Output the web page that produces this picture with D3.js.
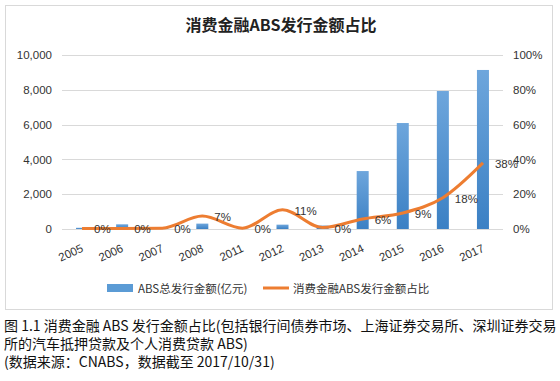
<!DOCTYPE html>
<html>
<head>
<meta charset="utf-8">
<script src="https://cdn.jsdelivr.net/npm/d3@7"></script>
<style>
  body { margin: 0; background: #fff; }
  svg { display: block; font-family: "Noto Sans CJK SC", "DejaVu Sans", sans-serif; }
</style>
</head>
<body>
<svg id="chart" width="560" height="381"></svg>
<script>
var years = ["2005", "2006", "2007", "2008", "2011", "2012", "2013", "2014", "2015", "2016", "2017"];
var totalIssue = [70, 270, 100, 310, 20, 250, 200, 3330, 6090, 7930, 9140];
var consumerShare = [0.003, 0.003, 0.005, 0.074, 0.005, 0.11, 0.008, 0.058, 0.092, 0.18, 0.38];
var shareLabels = ["0%", "0%", "0%", "7%", "0%", "11%", "0%", "6%", "9%", "18%", "38%"];
var leftTicks = [0, 2000, 4000, 6000, 8000, 10000];
var rightTicks = [0, 0.2, 0.4, 0.6, 0.8, 1];

var svg = d3.select("#chart");
var margin = {top: 55, left: 62, right: 57, bottom: 152};
var width = 560 - margin.left - margin.right;
var height = 381 - margin.top - margin.bottom;

// chart frame
svg.append("rect")
  .attr("x", 5.5).attr("y", 5.5)
  .attr("width", 547).attr("height", 304)
  .attr("fill", "#fff").attr("stroke", "#d9d9d9");

svg.append("text")
  .attr("x", 281).attr("y", 31)
  .attr("text-anchor", "middle")
  .attr("font-size", 16).attr("font-weight", "bold")
  .attr("fill", "#222")
  .text("消费金融ABS发行金额占比");

var x = d3.scaleBand().domain(years).range([0, width]);
var y = d3.scaleLinear().domain([0, 10000]).range([height, 0]);
var y2 = d3.scaleLinear().domain([0, 1]).range([height, 0]);

var main = svg.append("g")
  .attr("transform", "translate(" + margin.left + "," + margin.top + ")");

// gridlines
main.selectAll(".grid")
  .data(leftTicks)
  .enter().append("line")
  .attr("x1", 0).attr("x2", width)
  .attr("y1", function(d) { return Math.round(y(d)) + 0.5; })
  .attr("y2", function(d) { return Math.round(y(d)) + 0.5; })
  .attr("stroke", "#d9d9d9");

// left axis
var yAxis = d3.axisLeft(y).tickValues(leftTicks).tickSize(0).tickPadding(10).tickFormat(d3.format(","));
main.append("g").call(yAxis)
  .call(function(g) { g.select(".domain").remove(); })
  .selectAll("text").attr("font-size", 11.5).attr("fill", "#333")
  .attr("font-family", "Liberation Sans, Arial, sans-serif");

// right axis
var y2Axis = d3.axisRight(y2).tickValues(rightTicks).tickSize(0).tickPadding(10).tickFormat(d3.format(".0%"));
main.append("g").attr("transform", "translate(" + width + ",0)").call(y2Axis)
  .call(function(g) { g.select(".domain").remove(); })
  .selectAll("text").attr("font-size", 11.5).attr("fill", "#333")
  .attr("font-family", "Liberation Sans, Arial, sans-serif");

// x axis labels
var xAxis = d3.axisBottom(x).tickSize(0).tickPadding(0);
main.append("g").attr("transform", "translate(0," + height + ")").call(xAxis)
  .call(function(g) { g.select(".domain").remove(); })
  .selectAll("text")
  .attr("font-size", 11.5).attr("fill", "#333")
  .attr("font-family", "Liberation Sans, Arial, sans-serif")
  .attr("text-anchor", "end")
  .attr("dy", 0)
  .attr("transform", "translate(2,22) rotate(-25)");

// bar gradient
var defs = svg.append("defs");
var grad = defs.append("linearGradient").attr("id", "barGrad")
  .attr("x1", 0).attr("y1", 0).attr("x2", 0).attr("y2", 1);
grad.append("stop").attr("offset", "0%").attr("stop-color", "#6ea6dc");
grad.append("stop").attr("offset", "100%").attr("stop-color", "#3b80c4");

var barW = 12;
main.selectAll(".bar")
  .data(totalIssue)
  .enter().append("rect")
  .attr("x", function(d, i) { return x(years[i]) + x.bandwidth() / 2 - barW / 2; })
  .attr("y", function(d) { return y(d); })
  .attr("width", barW)
  .attr("height", function(d) { return height - y(d); })
  .attr("fill", "url(#barGrad)");

// share line
var line = d3.line()
  .x(function(d, i) { return x(years[i]) + x.bandwidth() / 2; })
  .y(function(d) { return y2(d); })
  .curve(d3.curveMonotoneX);

main.append("path")
  .datum(consumerShare)
  .attr("d", line)
  .attr("fill", "none")
  .attr("stroke", "#ed7d31")
  .attr("stroke-width", 3)
  .attr("stroke-linejoin", "round");

main.selectAll(".lbl")
  .data(consumerShare)
  .enter().append("text")
  .attr("x", function(d, i) { return x(years[i]) + x.bandwidth() / 2 + 12; })
  .attr("y", function(d) { return y2(d) + 5; })
  .attr("font-size", 11.5).attr("fill", "#333")
  .attr("font-family", "Liberation Sans, Arial, sans-serif")
  .text(function(d, i) { return shareLabels[i]; });

// legend
var legend = svg.append("g");
legend.append("rect").attr("x", 107).attr("y", 284).attr("width", 26).attr("height", 8).attr("fill", "#5b9bd5");
legend.append("text").attr("x", 138).attr("y", 293).attr("font-size", 11.5).attr("fill", "#333")
  .text("ABS总发行金额(亿元)");
legend.append("line").attr("x1", 263).attr("x2", 289).attr("y1", 288).attr("y2", 288)
  .attr("stroke", "#ed7d31").attr("stroke-width", 3);
legend.append("text").attr("x", 293).attr("y", 293).attr("font-size", 11.5).attr("fill", "#333")
  .text("消费金融ABS发行金额占比");

// caption
var caption = [
  "图 1.1 消费金融 ABS 发行金额占比(包括银行间债券市场、上海证券交易所、深圳证券交易",
  "所的汽车抵押贷款及个人消费贷款 ABS)",
  "(数据来源：CNABS，数据截至 2017/10/31)"
];
svg.selectAll(".cap")
  .data(caption)
  .enter().append("text")
  .attr("x", 4)
  .attr("y", function(d, i) { return 331 + i * 18; })
  .attr("font-size", 14).attr("fill", "#111")
  .text(function(d) { return d; });
</script>
</body>
</html>
